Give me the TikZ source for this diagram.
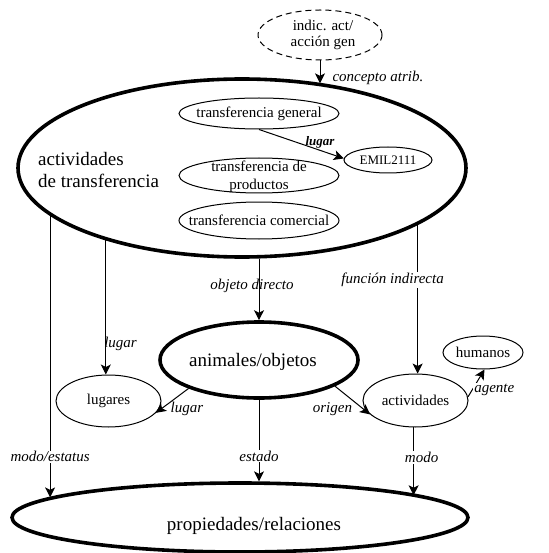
\documentclass[tikz,border=0pt]{standalone}
\usepackage{fontspec}
\setmainfont{Liberation Serif}
\newfontfamily\tnr{Liberation Serif}
\usetikzlibrary{shapes.geometric,arrows.meta}
\begin{document}
\begin{tikzpicture}[x=1pt,y=-1pt,
  txt/.style={font=\tnr\fontsize{15}{17}\selectfont,align=center,inner sep=0pt},
  bigtxt/.style={font=\tnr\fontsize{19}{22.5}\selectfont,inner sep=0pt},
  oval/.style={ellipse,draw,line width=1pt,inner sep=0pt},
  bigoval/.style={oval,line width=3.6pt},
  conn/.style={line width=1pt,-{Stealth[length=10pt,width=10pt,inset=2.5pt]}},
  lbl/.style={font=\tnr\fontsize{15}{17}\selectfont\itshape,inner sep=1pt},
  lblw/.style={lbl,fill=white}]
\useasboundingbox (0,0) rectangle (548,553);

% concept nodes
\node[oval,dashed,dash pattern=on 6pt off 4pt,minimum width=124pt,minimum height=50pt,
  label={[txt,xshift=3pt,font=\tnr\fontsize{15}{16}\selectfont]center:indic. act/\\acción gen}] (ind) at (320,35) {};
\node[bigoval,minimum width=448pt,minimum height=178pt] (atr) at (242,168) {};
\node[bigtxt,anchor=west,align=left] (atrtxt) at (38,170) {actividades\\de transferencia};

\node[oval,minimum width=160pt,minimum height=31pt,
  label={[txt]center:transferencia general}] (tg) at (259,113.5) {};
\node[oval,minimum width=88pt,minimum height=26pt,
  label={[txt,font=\tnr\fontsize{13}{15}\selectfont]center:EMIL2111}] (emil) at (388,160) {};
\node[oval,minimum width=160pt,minimum height=35pt,
  label={[txt,font=\tnr\fontsize{15}{18}\selectfont,yshift=-1pt]center:transferencia de\\productos}] (tp) at (259,175.5) {};
\node[oval,minimum width=160pt,minimum height=37pt,
  label={[txt]center:transferencia comercial}] (tc) at (259,220.5) {};

\node[bigoval,minimum width=198pt,minimum height=76pt,
  label={[bigtxt,xshift=-6pt,yshift=-2pt]center:animales/objetos}] (anim) at (259,360) {};
\node[oval,minimum width=105pt,minimum height=52pt,
  label={[txt]center:lugares}] (lug) at (108.5,401) {};
\node[oval,minimum width=105pt,minimum height=53pt,
  label={[txt]center:actividades}] (act) at (415.5,400.5) {};
\node[oval,minimum width=80pt,minimum height=33pt,
  label={[txt]center:humanos}] (hum) at (483,352.5) {};

\node[bigoval,minimum width=456pt,minimum height=69pt] (prop) at (240,517.5) {};
\node[bigtxt] (proptxt) at (254,526) {propiedades/relaciones};

% relations; the long links keep the x of their start so they run vertically
\draw[conn] (ind.south) -- node[lbl,anchor=west,pos=.78,xshift=11pt] {concepto atrib.} (ind.south |- atr.46.9);
\draw[conn] (tg.south) -- node[lbl,font=\tnr\fontsize{13}{15}\selectfont\bfseries\itshape,above,pos=.72,yshift=1pt] {lugar} (emil.178);

\draw[conn] (atr.194.2) -- node[lblw,pos=.856] {modo/estatus} (atr.194.2 |- prop.174.8);
\draw[conn] (atr.208.2) -- node[lbl,anchor=west,pos=.77,xshift=-3pt] {lugar} (atr.208.2 |- lug.north);
\draw[conn] (anim.north |- atr.280.8) -- node[lbl,pos=.44,xshift=-7pt] {objeto directo} (anim.north);
\draw[conn] (atr.342.6) -- node[lblw,pos=.37,xshift=-25pt] {función indirecta} (atr.342.6 |- act.north);

\draw[conn] (anim.south) -- node[lblw,pos=.69] {estado} (anim.south |- prop.61.07);
\draw[conn] (act.266) -- node[lblw,pos=.44,xshift=8pt] {modo} (act.266 |- prop.7.4);

\draw[conn] (anim.202) -- node[lbl,anchor=west,pos=.75,xshift=5pt,yshift=-2pt] {lugar} (lug.-14);
\draw[conn] (anim.-19) -- node[lbl,anchor=north east,pos=.5,xshift=1pt,yshift=-1pt] {origen} (act.197);
\draw[conn] (act.4) -- node[lblw,anchor=west,pos=.35,xshift=-1pt,yshift=-3pt] {agente} (hum.-85);
\end{tikzpicture}
\end{document}
